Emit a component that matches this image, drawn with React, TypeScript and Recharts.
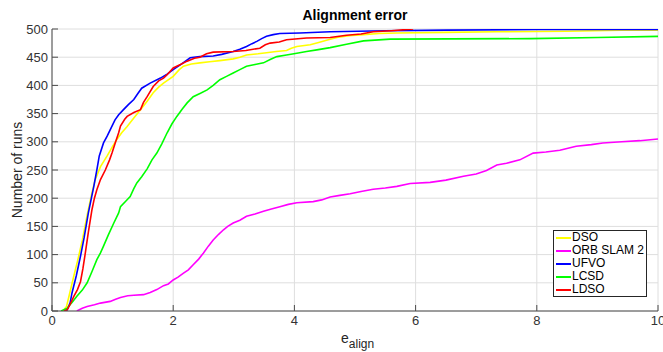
import { LineChart, Line, XAxis, YAxis, CartesianGrid } from "recharts";

type Pt = { x: number; y: number };
const toPts = (rows: number[][]): Pt[] => rows.map(([x, y]) => ({ x, y }));

// cumulative number of runs below a given alignment error
const dsoRuns = toPts([
  [0.18, 0], [0.24, 8], [0.3, 35], [0.36, 62], [0.42, 88], [0.5, 125], [0.58, 170],
  [0.65, 205], [0.71, 232], [0.8, 256], [0.91, 275], [1.0, 292], [1.07, 304], [1.15, 316],
  [1.24, 327], [1.35, 342], [1.46, 357], [1.57, 372], [1.67, 387], [1.76, 397], [1.84, 404],
  [2.0, 416], [2.1, 428], [2.17, 434], [2.3, 438], [2.44, 440], [2.6, 442], [2.77, 444],
  [2.99, 447], [3.1, 450], [3.21, 454], [3.4, 456], [3.54, 458], [3.7, 460], [3.87, 462],
  [3.95, 466], [4.04, 469], [4.26, 472], [4.4, 476], [4.53, 480], [4.7, 485], [4.9, 488],
  [5.14, 490], [5.4, 492], [5.69, 493], [6.5, 494], [7.34, 495], [8.5, 496], [9.4, 498], [10, 498],
]);

const orbSlamRuns = toPts([
  [0.41, 0], [0.5, 5], [0.58, 8], [0.7, 11], [0.8, 14], [0.96, 17], [1.05, 21], [1.13, 24],
  [1.25, 27], [1.35, 28], [1.51, 29], [1.62, 33], [1.73, 38], [1.84, 45], [1.92, 48], [2.0, 55],
  [2.08, 60], [2.17, 67], [2.25, 73], [2.33, 82], [2.42, 92], [2.5, 103], [2.58, 115],
  [2.66, 126], [2.75, 136], [2.83, 144], [2.9, 150], [2.99, 156], [3.1, 161], [3.21, 168],
  [3.35, 172], [3.49, 177], [3.62, 181], [3.76, 185], [3.9, 189], [4.04, 192], [4.31, 194],
  [4.45, 197], [4.59, 202], [4.75, 205], [4.92, 208], [5.1, 212], [5.3, 216], [5.5, 218],
  [5.69, 221], [5.91, 226], [6.24, 228], [6.5, 232], [6.79, 239], [7.0, 243], [7.17, 249],
  [7.34, 259], [7.5, 262], [7.72, 268], [7.94, 280], [8.15, 282], [8.38, 285], [8.65, 292],
  [8.9, 295], [9.09, 298], [9.4, 300], [9.7, 302], [10, 305],
]);

const ufvoRuns = toPts([
  [0.2, 0], [0.25, 2], [0.3, 15], [0.33, 32], [0.4, 62], [0.47, 97], [0.53, 130], [0.6, 174],
  [0.65, 200], [0.69, 221], [0.74, 250], [0.78, 275], [0.85, 298], [0.91, 310], [1.0, 330],
  [1.04, 339], [1.1, 348], [1.18, 357], [1.26, 366], [1.35, 375], [1.42, 386], [1.48, 395],
  [1.62, 404], [1.79, 413], [1.9, 420], [2.0, 428], [2.14, 438], [2.28, 449], [2.44, 451],
  [2.66, 452], [2.8, 455], [2.99, 460], [3.1, 464], [3.21, 469], [3.3, 474], [3.38, 478],
  [3.46, 483], [3.54, 487], [3.65, 490], [3.76, 492], [4.09, 493], [4.59, 495], [5.5, 497],
  [6.5, 498], [8, 499], [10, 499],
]);

const lcsdRuns = toPts([
  [0.15, 0], [0.25, 5], [0.33, 15], [0.41, 26], [0.5, 37], [0.58, 50], [0.66, 70], [0.74, 91],
  [0.8, 103], [0.85, 115], [0.93, 135], [1.02, 156], [1.1, 174], [1.13, 185], [1.22, 195],
  [1.29, 203], [1.35, 217], [1.4, 227], [1.48, 238], [1.57, 252], [1.65, 268], [1.73, 280],
  [1.81, 296], [1.9, 316], [1.98, 332], [2.06, 345], [2.15, 358], [2.23, 369], [2.33, 380],
  [2.45, 386], [2.56, 392], [2.66, 400], [2.77, 410], [2.88, 416], [2.99, 422], [3.1, 428],
  [3.21, 434], [3.35, 437], [3.49, 440], [3.6, 446], [3.71, 451], [3.87, 454], [4.04, 457],
  [4.2, 460], [4.37, 463], [4.59, 467], [4.86, 473], [5.14, 479], [5.58, 482], [7.9, 483],
  [9, 485], [10, 487],
]);

const ldsoRuns = toPts([
  [0.2, 0], [0.25, 2], [0.3, 12], [0.36, 26], [0.42, 38], [0.47, 52], [0.51, 75], [0.55, 103],
  [0.6, 140], [0.66, 180], [0.7, 200], [0.74, 215], [0.8, 233], [0.88, 250], [0.95, 268],
  [0.99, 280], [1.05, 300], [1.1, 316], [1.13, 328], [1.2, 340], [1.24, 345], [1.35, 352],
  [1.46, 357], [1.51, 370], [1.57, 380], [1.67, 398], [1.76, 408], [1.84, 413], [1.9, 419],
  [2.0, 431], [2.12, 437], [2.23, 443], [2.35, 448], [2.44, 450], [2.55, 456], [2.66, 459],
  [2.99, 460], [3.2, 462], [3.43, 466], [3.52, 472], [3.6, 475], [3.75, 477], [3.87, 481],
  [4.2, 484], [4.59, 485], [4.86, 489], [5.1, 491], [5.3, 495], [5.6, 497], [5.96, 500],
]);

const SERIES = [
  { name: "DSO", color: "#ffff00", data: dsoRuns },
  { name: "ORB SLAM 2", color: "#ff00ff", data: orbSlamRuns },
  { name: "UFVO", color: "#0000ff", data: ufvoRuns },
  { name: "LCSD", color: "#00ff00", data: lcsdRuns },
  { name: "LDSO", color: "#ff0000", data: ldsoRuns },
];

const X_TICKS = [0, 2, 4, 6, 8, 10];
const Y_TICKS = [0, 50, 100, 150, 200, 250, 300, 350, 400, 450, 500];

const FONT = "'Liberation Sans', Arial, Helvetica, sans-serif";
const TICK_STYLE = { fill: "#333", fontSize: 13, fontFamily: FONT };

export default function App() {
  return (
    <div
      style={{
        position: "absolute",
        left: 0,
        top: 0,
        width: 663,
        height: 352,
        background: "#fff",
        fontFamily: FONT,
      }}
    >
      <LineChart width={663} height={352} margin={{ top: 29, right: 5, bottom: 0, left: 0 }}>
        <CartesianGrid stroke="#dedede" />
        <XAxis
          type="number"
          dataKey="x"
          domain={[0, 10]}
          ticks={X_TICKS}
          interval={0}
          allowDataOverflow
          height={41}
          tickSize={-6}
          tickMargin={11}
          stroke="#4a4a4a"
          tick={TICK_STYLE}
        />
        <YAxis
          type="number"
          domain={[0, 500]}
          ticks={Y_TICKS}
          interval={0}
          allowDataOverflow
          width={52}
          tickSize={-6}
          tickMargin={10}
          stroke="#4a4a4a"
          tick={TICK_STYLE}
        />
        {SERIES.map((s) => (
          <Line
            key={s.name}
            name={s.name}
            data={s.data}
            dataKey="y"
            type="linear"
            stroke={s.color}
            strokeWidth={1.6}
            dot={false}
            isAnimationActive={false}
          />
        ))}
      </LineChart>

      {/* title */}
      <div
        style={{
          position: "absolute",
          left: 255,
          top: 8,
          width: 200,
          textAlign: "center",
          fontSize: 14,
          lineHeight: "14px",
          fontWeight: "bold",
          color: "#000",
        }}
      >
        Alignment error
      </div>

      {/* y axis label */}
      <div
        style={{
          position: "absolute",
          left: 17 - 75,
          top: 170 - 8,
          width: 150,
          height: 16,
          lineHeight: "16px",
          textAlign: "center",
          fontSize: 14,
          color: "#262626",
          transform: "rotate(-90deg)",
        }}
      >
        Number of runs
      </div>

      {/* x axis label */}
      <div
        style={{
          position: "absolute",
          left: 341,
          top: 331,
          fontSize: 14,
          lineHeight: "14px",
          color: "#262626",
          whiteSpace: "nowrap",
        }}
      >
        e
        <span style={{ fontSize: 12, position: "relative", top: 5 }}>align</span>
      </div>

      {/* legend */}
      <div
        style={{
          position: "absolute",
          left: 553,
          top: 230,
          width: 92,
          height: 65,
          border: "1px solid #262626",
          background: "#fff",
        }}
      >
        {SERIES.map((s) => (
          <div
            key={s.name}
            style={{
              display: "flex",
              alignItems: "center",
              height: 13,
              fontSize: 12,
              lineHeight: "13px",
              color: "#000",
              whiteSpace: "nowrap",
            }}
          >
            <span
              style={{
                display: "inline-block",
                width: 15,
                height: 2,
                marginLeft: 2,
                marginRight: 1,
                background: s.color,
              }}
            />
            {s.name}
          </div>
        ))}
      </div>
    </div>
  );
}
